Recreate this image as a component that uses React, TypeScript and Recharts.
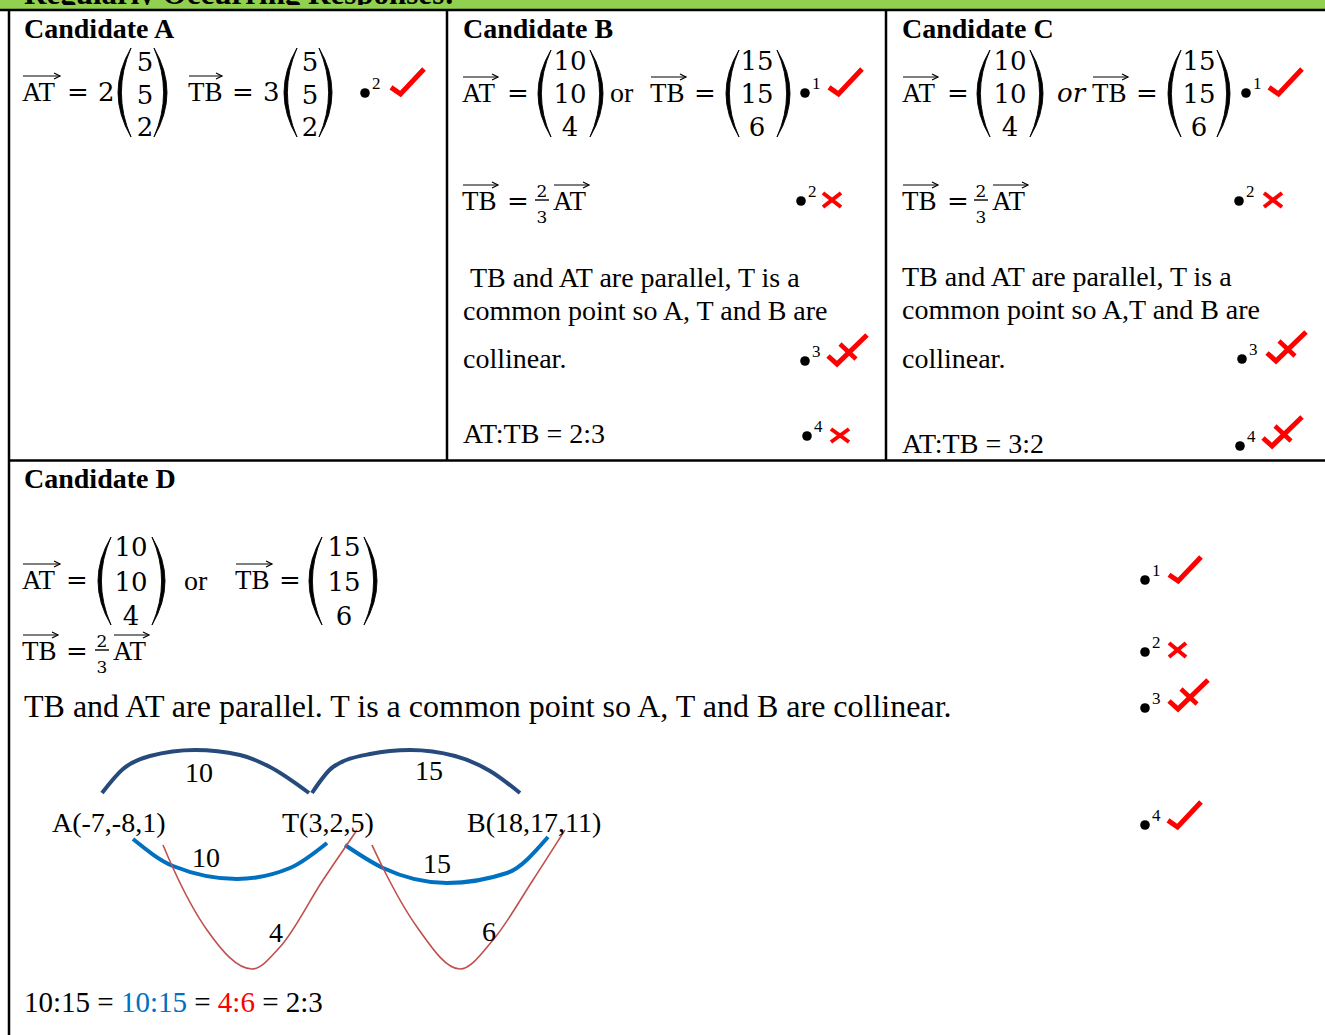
import type {ReactNode} from 'react';
import {ComposedChart, Line, Scatter, XAxis, YAxis} from 'recharts';

const SERIF = "'Liberation Serif', 'Times New Roman', serif";
const MATH = "'DejaVu Serif', serif";
const RED = '#ff0000';
const NAVY = '#264a7c';
const BLUE = '#0070c0';
const BROWN = '#c0504d';

// A-T-B sketch (page pixels)
const topArcAT = [
    {x: 102, y: 793}, {x: 123, y: 769}, {x: 150, y: 756}, {x: 195, y: 750},
    {x: 240, y: 755}, {x: 270, y: 767}, {x: 309, y: 793},
];
const topArcTB = [
    {x: 312, y: 793}, {x: 333, y: 767}, {x: 370, y: 754}, {x: 410, y: 750},
    {x: 455, y: 756}, {x: 490, y: 771}, {x: 520, y: 793},
];
const midArcAT = [
    {x: 133, y: 839}, {x: 173, y: 866}, {x: 237, y: 879}, {x: 290, y: 868}, {x: 327, y: 843},
];
const midArcTB = [
    {x: 345, y: 845}, {x: 383, y: 868}, {x: 447, y: 883}, {x: 507, y: 873}, {x: 548, y: 837},
];
const lowArcAT = [
    {x: 163, y: 845}, {x: 173, y: 868}, {x: 207, y: 930}, {x: 252, y: 969},
    {x: 280, y: 947}, {x: 323, y: 880}, {x: 357, y: 830},
];
const lowArcTB = [
    {x: 372, y: 845}, {x: 383, y: 868}, {x: 417, y: 927}, {x: 460, y: 969},
    {x: 493, y: 940}, {x: 533, y: 880}, {x: 565, y: 830},
];
const pointLabels = [
    {x: 52, y: 832, text: 'A(-7,-8,1)'},
    {x: 282, y: 832, text: 'T(3,2,5)'},
    {x: 467, y: 832, text: 'B(18,17,11)'},
];
const lengthLabels = [
    {x: 199, y: 782, text: '10'},
    {x: 429, y: 780, text: '15'},
    {x: 206, y: 867, text: '10'},
    {x: 437, y: 873, text: '15'},
    {x: 276, y: 942, text: '4'},
    {x: 489, y: 941, text: '6'},
];

const vecA = ['5', '5', '2'];
const vecAT = ['10', '10', '4'];
const vecTB = ['15', '15', '6'];
const ratioParts = [
    {text: '10:15 = ', color: '#000'},
    {text: '10:15', color: BLUE},
    {text: ' = ', color: '#000'},
    {text: '4:6', color: RED},
    {text: ' = 2:3', color: '#000'},
];

type TxtProps = {
    x: number; y: number; size?: number; bold?: boolean; italic?: boolean;
    font?: string; anchor?: 'start' | 'middle' | 'end'; fill?: string; children: ReactNode;
};

function Txt({x, y, size = 28, bold = false, italic = false, font = SERIF, anchor = 'start', fill = '#000', children}: TxtProps) {
    return (
        <text x={x} y={y} fontSize={size} fontFamily={font} fontWeight={bold ? 700 : 400}
              fontStyle={italic ? 'italic' : 'normal'} textAnchor={anchor} fill={fill}>
            {children}
        </text>
    );
}

function Vec({x, y, w, label}: {x: number; y: number; w: number; label: string}) {
    const ay = y - 25;
    return (
        <g>
            <Txt x={x} y={y} size={27}>{label}</Txt>
            <line x1={x + 1} y1={ay} x2={x + w} y2={ay} stroke="#000" strokeWidth={1.2}/>
            <polyline points={`${x + w - 6},${ay - 3} ${x + w},${ay} ${x + w - 6},${ay + 3}`}
                      fill="none" stroke="#000" strokeWidth={1.2}/>
        </g>
    );
}

function Paren({x, top, h, right = false}: {x: number; top: number; h: number; right?: boolean}) {
    const w = 13;
    const t = 3.4;
    const mid = top + h / 2;
    const d = right
        ? `M${x - w},${top} Q${x + w},${mid} ${x - w},${top + h} Q${x + w - 2 * t},${mid} ${x - w},${top} Z`
        : `M${x + w},${top} Q${x - w},${mid} ${x + w},${top + h} Q${x - w + 2 * t},${mid} ${x + w},${top} Z`;
    return <path d={d} fill="#000" stroke="#000" strokeWidth={0.9}/>;
}

type MatrixProps = {lx: number; rx: number; cx: number; top: number; h: number; rows: number[]; vals: string[]};

function Matrix({lx, rx, cx, top, h, rows, vals}: MatrixProps) {
    return (
        <g>
            <Paren x={lx} top={top} h={h}/>
            <Paren x={rx} top={top} h={h} right/>
            {vals.map((v, i) => (
                <Txt key={i} x={cx} y={rows[i]} size={26} font={MATH} anchor="middle">{v}</Txt>
            ))}
        </g>
    );
}

function Frac({cx, bar}: {cx: number; bar: number}) {
    return (
        <g>
            <Txt x={cx} y={bar - 3} size={17} font={MATH} anchor="middle">2</Txt>
            <line x1={cx - 7} y1={bar} x2={cx + 7} y2={bar} stroke="#000" strokeWidth={1.4}/>
            <Txt x={cx} y={bar + 23} size={17} font={MATH} anchor="middle">3</Txt>
        </g>
    );
}

function Dot({x, y, n}: {x: number; y: number; n: string}) {
    return (
        <g>
            <circle cx={x} cy={y} r={4.8} fill="#000"/>
            <Txt x={x + 7} y={y - 4.5} size={17}>{n}</Txt>
        </g>
    );
}

function Tick({x, y, w = 35, h = 30}: {x: number; y: number; w?: number; h?: number}) {
    return (
        <polyline points={`${x + 1},${y + h * 0.68} ${x + w * 0.3},${y + h - 3} ${x + w - 1},${y + 2}`}
                  fill="none" stroke={RED} strokeWidth={5}/>
    );
}

function Cross({x, y, w = 20, h = 16}: {x: number; y: number; w?: number; h?: number}) {
    return (
        <g stroke={RED} strokeWidth={4}>
            <line x1={x + 1} y1={y + 1} x2={x + w - 1} y2={y + h - 1}/>
            <line x1={x + w - 1} y1={y + 1} x2={x + 1} y2={y + h - 1}/>
        </g>
    );
}

function TickX({x, y}: {x: number; y: number}) {
    return (
        <g>
            <polyline points={`${x + 2},${y + 23} ${x + 11},${y + 31} ${x + 41},${y + 2}`}
                      fill="none" stroke={RED} strokeWidth={5}/>
            <line x1={x + 14} y1={y + 11} x2={x + 30} y2={y + 26} stroke={RED} strokeWidth={4.5}/>
        </g>
    );
}

function StartLabel(props: any) {
    const {cx, cy, payload} = props;
    return <text x={cx} y={cy} fontSize={28} fontFamily={SERIF} fill="#000">{payload.text}</text>;
}

function MiddleLabel(props: any) {
    const {cx, cy, payload} = props;
    return <text x={cx} y={cy} fontSize={28} fontFamily={SERIF} fill="#000" textAnchor="middle">{payload.text}</text>;
}

function Sketch() {
    const arcs = [
        {data: topArcAT, color: NAVY, width: 4},
        {data: topArcTB, color: NAVY, width: 4},
        {data: midArcAT, color: BLUE, width: 4},
        {data: midArcTB, color: BLUE, width: 4},
        {data: lowArcAT, color: BROWN, width: 1.6},
        {data: lowArcTB, color: BROWN, width: 1.6},
    ];
    return (
        <div style={{position: 'absolute', left: 0, top: 730, width: 640, height: 260}}>
            <ComposedChart width={640} height={260} margin={{top: 0, right: 0, bottom: 0, left: 0}}>
                <XAxis type="number" dataKey="x" domain={[0, 640]} allowDataOverflow hide/>
                <YAxis type="number" dataKey="y" domain={[730, 990]} allowDataOverflow reversed hide/>
                {arcs.map((a, i) => (
                    <Line key={i} data={a.data} dataKey="y" type="monotone" stroke={a.color}
                          strokeWidth={a.width} dot={false} activeDot={false} isAnimationActive={false}/>
                ))}
                <Scatter data={pointLabels} dataKey="y" shape={StartLabel} isAnimationActive={false}/>
                <Scatter data={lengthLabels} dataKey="y" shape={MiddleLabel} isAnimationActive={false}/>
            </ComposedChart>
        </div>
    );
}

const rowsA = [71, 103.5, 136];
const rowsBC = [70, 103, 136];
const rowsD = [556, 591, 625];

export default function App() {
    return (
        <div style={{position: 'absolute', left: 0, top: 0, width: 1325, height: 1035, background: '#fff', overflow: 'hidden'}}>
            <svg width={1325} height={1035} style={{position: 'absolute', left: 0, top: 0}}>
                <defs>
                    <clipPath id="hdr">
                        <rect x={0} y={0} width={1325} height={5}/>
                    </clipPath>
                </defs>
                <rect x={0} y={0} width={1325} height={10} fill="#92d050"/>
                <g clipPath="url(#hdr)">
                    <Txt x={24} y={4} size={31} bold>Regularly Occurring Responses:</Txt>
                </g>

                {/* grid */}
                <g stroke="#000" strokeWidth={2.5}>
                    <line x1={0} y1={10} x2={1325} y2={10}/>
                    <line x1={9} y1={10} x2={9} y2={1035}/>
                    <line x1={447} y1={10} x2={447} y2={461}/>
                    <line x1={886} y1={10} x2={886} y2={461}/>
                    <line x1={9} y1={460.5} x2={1325} y2={460.5}/>
                </g>

                {/* Candidate A */}
                <Txt x={24} y={38} bold>Candidate A</Txt>
                <Vec x={22} y={101} w={38} label="AT"/>
                <Txt x={67} y={101} size={26} font={MATH}>=</Txt>
                <Txt x={98} y={101} size={26} font={MATH}>2</Txt>
                <Matrix lx={118} rx={167} cx={145} top={48} h={89} rows={rowsA} vals={vecA}/>
                <Vec x={188} y={101} w={34} label="TB"/>
                <Txt x={232} y={101} size={26} font={MATH}>=</Txt>
                <Txt x={263} y={101} size={26} font={MATH}>3</Txt>
                <Matrix lx={284} rx={332} cx={310} top={48} h={89} rows={rowsA} vals={vecA}/>
                <Dot x={365} y={93} n="2"/>
                <Tick x={390} y={67}/>

                {/* Candidate B */}
                <Txt x={463} y={38} bold>Candidate B</Txt>
                <Vec x={462} y={102} w={36} label="AT"/>
                <Txt x={507} y={102} size={26} font={MATH}>=</Txt>
                <Matrix lx={538} rx={603} cx={570} top={50} h={87} rows={rowsBC} vals={vecAT}/>
                <Txt x={610} y={102}>or</Txt>
                <Vec x={650} y={102} w={36} label="TB"/>
                <Txt x={694} y={102} size={26} font={MATH}>=</Txt>
                <Matrix lx={726} rx={790} cx={757} top={50} h={87} rows={rowsBC} vals={vecTB}/>
                <Dot x={805} y={93} n="1"/>
                <Tick x={828} y={67}/>

                <Vec x={462} y={210} w={36} label="TB"/>
                <Txt x={507} y={210} size={26} font={MATH}>=</Txt>
                <Frac cx={542} bar={200}/>
                <Vec x={553} y={210} w={36} label="AT"/>
                <Dot x={801} y={201} n="2"/>
                <Cross x={822} y={192}/>

                <Txt x={470} y={287}>TB and AT are parallel, T is a</Txt>
                <Txt x={463} y={320}>common point so A, T and B are</Txt>
                <Txt x={463} y={368}>collinear.</Txt>
                <Dot x={805} y={361} n="3"/>
                <TickX x={826} y={333}/>
                <Txt x={463} y={443}>AT:TB = 2:3</Txt>
                <Dot x={807} y={436} n="4"/>
                <Cross x={830} y={428} w={20} h={15}/>

                {/* Candidate C */}
                <Txt x={902} y={38} bold>Candidate C</Txt>
                <Vec x={902} y={102} w={36} label="AT"/>
                <Txt x={947} y={102} size={26} font={MATH}>=</Txt>
                <Matrix lx={977} rx={1043} cx={1010} top={50} h={87} rows={rowsBC} vals={vecAT}/>
                <Txt x={1057} y={102} size={26} font={MATH} italic>or</Txt>
                <Vec x={1092} y={102} w={36} label="TB"/>
                <Txt x={1136} y={102} size={26} font={MATH}>=</Txt>
                <Matrix lx={1168} rx={1230} cx={1199} top={50} h={87} rows={rowsBC} vals={vecTB}/>
                <Dot x={1246} y={93} n="1"/>
                <Tick x={1268} y={67}/>

                <Vec x={902} y={210} w={36} label="TB"/>
                <Txt x={947} y={210} size={26} font={MATH}>=</Txt>
                <Frac cx={981} bar={200}/>
                <Vec x={992} y={210} w={36} label="AT"/>
                <Dot x={1239} y={201} n="2"/>
                <Cross x={1263} y={192}/>

                <Txt x={902} y={286}>TB and AT are parallel, T is a</Txt>
                <Txt x={902} y={319}>common point so A,T and B are</Txt>
                <Txt x={902} y={368}>collinear.</Txt>
                <Dot x={1242} y={359} n="3"/>
                <TickX x={1265} y={330}/>
                <Txt x={902} y={453}>AT:TB = 3:2</Txt>
                <Dot x={1240} y={446} n="4"/>
                <TickX x={1261} y={415}/>

                {/* Candidate D */}
                <Txt x={24} y={488} bold>Candidate D</Txt>
                <Vec x={22} y={589} w={38} label="AT"/>
                <Txt x={66} y={589} size={26} font={MATH}>=</Txt>
                <Matrix lx={98} rx={165} cx={131} top={537} h={88} rows={rowsD} vals={vecAT}/>
                <Txt x={184} y={590}>or</Txt>
                <Vec x={235} y={589} w={37} label="TB"/>
                <Txt x={279} y={589} size={26} font={MATH}>=</Txt>
                <Matrix lx={309} rx={377} cx={344} top={537} h={88} rows={rowsD} vals={vecTB}/>

                <Vec x={22} y={660} w={36} label="TB"/>
                <Txt x={66} y={660} size={26} font={MATH}>=</Txt>
                <Frac cx={102} bar={650}/>
                <Vec x={113} y={660} w={36} label="AT"/>

                <Txt x={24} y={717} size={32}>TB and AT are parallel. T is a common point so A, T and B are collinear.</Txt>

                <Dot x={1145} y={580} n="1"/>
                <Tick x={1168} y={555} w={34} h={29}/>
                <Dot x={1145} y={652} n="2"/>
                <Cross x={1168} y={642} w={19} h={16}/>
                <Dot x={1145} y={708} n="3"/>
                <TickX x={1167} y={678}/>
                <Dot x={1145} y={825} n="4"/>
                <Tick x={1167} y={800}/>

                <text x={24} y={1012} fontSize={29} fontFamily={SERIF} xmlSpace="preserve">
                    {ratioParts.map((p, i) => (
                        <tspan key={i} fill={p.color}>{p.text}</tspan>
                    ))}
                </text>
            </svg>
            <Sketch/>
        </div>
    );
}
